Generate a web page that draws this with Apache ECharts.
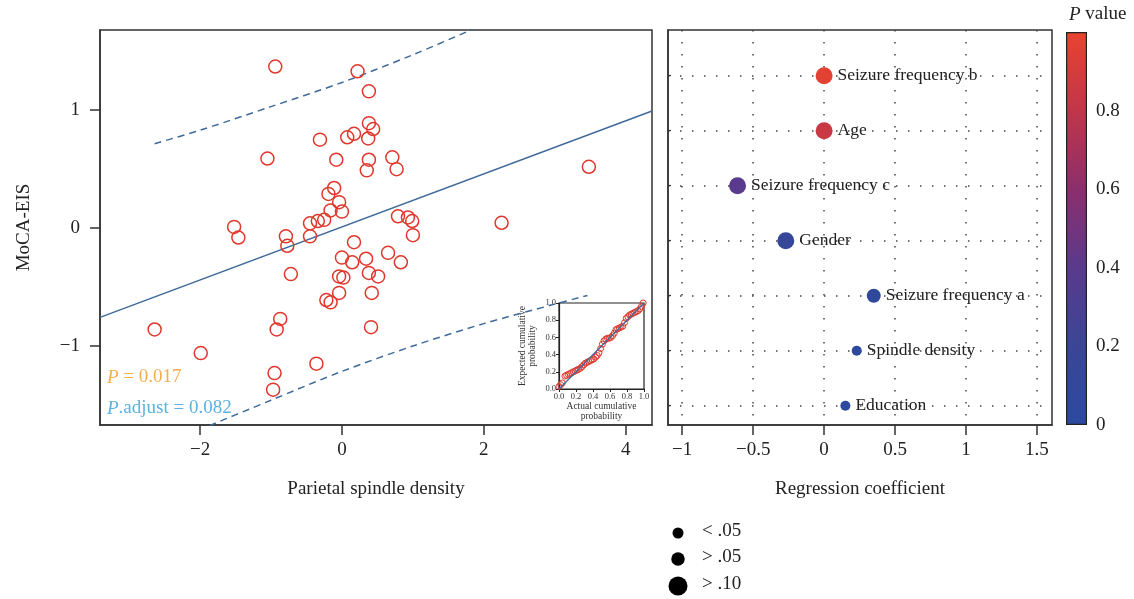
<!DOCTYPE html>
<html><head><meta charset="utf-8">
<script src="https://cdn.jsdelivr.net/npm/echarts@6/dist/echarts.min.js"></script>
<style>html,body{margin:0;padding:0;background:#fff}#c{width:1134px;height:599px}</style>
</head><body><div id="c"></div>
<script>
// ---- Left panel: scatter of parietal spindle density vs MoCA-EIS ----
const scatterX = [-0.94,0.22,0.38,0.38,0.44,0.37,0.17,0.075,-0.31,-1.05,-0.08,0.38,0.35,-0.11,-0.19,-0.04,0.00,-0.16,-0.25,-0.34,-0.45,-1.52,-1.46,-0.79,-0.77,-0.45,-0.72,0.17,0.00,0.145,0.34,0.65,-0.04,0.02,0.38,0.51,-0.04,0.42,-0.22,-0.16,-2.64,-0.87,-0.92,0.41,-1.99,-0.36,-0.95,-0.97,3.48,0.71,0.77,0.79,0.93,0.99,2.25,1.00,0.83];
const scatterY = [1.37,1.33,1.16,0.89,0.84,0.76,0.80,0.77,0.75,0.59,0.58,0.58,0.49,0.34,0.29,0.22,0.14,0.15,0.07,0.06,0.04,0.01,-0.08,-0.07,-0.15,-0.07,-0.39,-0.12,-0.25,-0.29,-0.26,-0.21,-0.41,-0.42,-0.38,-0.41,-0.55,-0.55,-0.61,-0.63,-0.86,-0.77,-0.86,-0.84,-1.06,-1.15,-1.23,-1.37,0.52,0.60,0.50,0.10,0.09,0.06,0.045,-0.06,-0.29];
const fitX = [-3.41, 4.37];
const fitY = [-0.757, 0.993];
const bandX = [-2.64, -2, -1, 0, 1, 2, 3, 3.46];
const bandUpper = [0.716, 0.83, 1.03, 1.235, 1.47, 1.73, 2.015, 2.149];
const bandLower = [-1.884, -1.71, -1.46, -1.215, -1.0, -0.81, -0.645, -0.571];
const leftXTicks = [-2, 0, 2, 4];
const leftYTicks = [-1, 0, 1];
const statP = '0.017';
const statPadj = '0.082';

// ---- Inset: P-P plot ----
const ppActual = [0.00,0.02,0.04,0.07,0.09,0.11,0.13,0.15,0.17,0.19,0.21,0.23,0.25,0.27,0.29,0.31,0.33,0.35,0.37,0.39,0.41,0.43,0.45,0.47,0.49,0.51,0.53,0.55,0.57,0.59,0.61,0.63,0.65,0.67,0.69,0.71,0.73,0.75,0.77,0.79,0.81,0.83,0.85,0.87,0.89,0.91,0.93,0.95,0.97,0.99];
const ppExpected = [0.03,0.05,0.07,0.15,0.16,0.17,0.18,0.19,0.20,0.21,0.22,0.23,0.24,0.26,0.28,0.30,0.31,0.32,0.33,0.34,0.35,0.37,0.39,0.42,0.47,0.52,0.56,0.58,0.59,0.59,0.60,0.62,0.65,0.69,0.70,0.71,0.72,0.73,0.77,0.82,0.84,0.86,0.87,0.88,0.89,0.90,0.91,0.93,0.96,1.00];
const ppRef = [0, 1];
const ppTicks = [0, 0.2, 0.4, 0.6, 0.8, 1.0];

// ---- Right panel: regression coefficients ----
const factors = ['Seizure frequency b','Age','Seizure frequency c','Gender','Seizure frequency a','Spindle density','Education'];
const factorPos = [7, 6, 5, 4, 3, 2, 1];
const coefs = [0.00, 0.00, -0.61, -0.27, 0.35, 0.23, 0.15];
const pValues = [0.97, 0.84, 0.40, 0.15, 0.07, 0.03, 0.02];
const rightXTicks = [-1, -0.5, 0, 0.5, 1, 1.5];
const cbTicks = [0, 0.2, 0.4, 0.6, 0.8];
const sizeLegend = ['< .05', '> .05', '> .10'];

const SERIF = '"Liberation Serif","DejaVu Serif",serif';
const AX = '#333';
const TXT = '#222';
const minus = v => String(v).replace('-', '\u2212');
const pColors = ['#2b4a9f','#3a4596','#5a3a8d','#8c2e6c','#c03649','#e9432f'];
function sizeFor(p){ return p < 0.05 ? 10 : (p < 0.10 ? 14 : 17); }
const legendSizes = [11, 13.5, 19];

const chart = echarts.init(document.getElementById('c'), null, {renderer:'canvas'});

const axisTxt = {fontFamily:SERIF, fontSize:19, color:TXT};
const dotted = {color:'#444', width:1.5, type:[1.5, 10.5]};

const graphics = [
  {type:'text', left:107, top:368, style:{text:'{i|P} = ' + statP, fontFamily:SERIF, fontSize:19, fill:'#f6ad4c',
     rich:{i:{fontStyle:'italic', fontFamily:SERIF, fontSize:19, fill:'#f6ad4c'}}}},
  {type:'text', left:107, top:399, style:{text:'{i|P}.adjust = ' + statPadj, fontFamily:SERIF, fontSize:19, fill:'#5bb2e2',
     rich:{i:{fontStyle:'italic', fontFamily:SERIF, fontSize:19, fill:'#5bb2e2'}}}},
  {type:'text', left:1069, top:5, style:{text:'{i|P} value', fontFamily:SERIF, fontSize:19, fill:TXT,
     rich:{i:{fontStyle:'italic', fontFamily:SERIF, fontSize:19, fill:TXT}}}}
];
const legendY = [533, 559, 586];
sizeLegend.forEach((t, i) => {
  graphics.push({type:'circle', shape:{cx:678, cy:legendY[i], r:legendSizes[i]/2}, style:{fill:'#000'}});
  graphics.push({type:'text', left:702, top:legendY[i]-11, style:{text:t, fontFamily:SERIF, fontSize:19, fill:TXT}});
});

const option = {
  animation:false,
  backgroundColor:'#fff',
  grid:[
    {left:100, top:30, width:552, height:395, show:true, borderColor:AX, borderWidth:1.5},
    {left:668, top:30, width:384, height:395, show:true, borderColor:AX, borderWidth:1.5},
    {left:1066, top:32, width:21, height:393},
    {left:559, top:303, width:85, height:86, show:true, borderColor:'#222', borderWidth:1.2, backgroundColor:'#fff'}
  ],
  xAxis:[
    {gridIndex:0, type:'value', min:-3.41, max:4.37, name:'Parietal spindle density', nameLocation:'middle', nameGap:55,
     nameTextStyle:axisTxt, axisLine:{onZero:false, lineStyle:{color:AX, width:1.5}},
     axisTick:{length:10, customValues:leftXTicks, lineStyle:{color:AX, width:1.5}},
     axisLabel:Object.assign({customValues:leftXTicks, formatter:minus, margin:16}, axisTxt), splitLine:{show:false}},
    {gridIndex:1, type:'value', min:-1.1, max:1.606, name:'Regression coefficient', nameLocation:'middle', nameGap:55,
     nameTextStyle:axisTxt, axisLine:{onZero:false, lineStyle:{color:AX, width:1.5}},
     axisTick:{length:10, customValues:rightXTicks, lineStyle:{color:AX, width:1.5}},
     axisLabel:Object.assign({customValues:rightXTicks, formatter:minus, margin:16}, axisTxt),
     splitLine:{show:true, lineStyle:dotted}},
    {gridIndex:2, type:'category', data:['P'], show:false, boundaryGap:true},
    {gridIndex:3, type:'value', min:0, max:1, interval:0.2, name:'Actual cumulative\nprobability', nameLocation:'middle', nameGap:13,
     nameTextStyle:{fontFamily:SERIF, fontSize:9.5, lineHeight:9.5, color:'#333'},
     axisLine:{onZero:false, lineStyle:{color:'#222', width:1.2}}, axisTick:{length:3, lineStyle:{color:'#222'}},
     axisLabel:{fontFamily:SERIF, fontSize:8.5, color:'#333', margin:3, formatter:v => v.toFixed(1)}, splitLine:{show:false}}
  ],
  yAxis:[
    {gridIndex:0, type:'value', min:-1.67, max:1.68, name:'MoCA-EIS', nameLocation:'middle', nameGap:66, nameTextStyle:axisTxt,
     axisLine:{onZero:false, lineStyle:{color:AX, width:1.5}},
     axisTick:{length:10, customValues:leftYTicks, lineStyle:{color:AX, width:1.5}},
     axisLabel:Object.assign({customValues:leftYTicks, formatter:minus, margin:20}, axisTxt), splitLine:{show:false}},
    {gridIndex:1, type:'value', min:0.65, max:7.83, axisLine:{onZero:false, lineStyle:{color:AX, width:1.5}},
     axisTick:{show:true, inside:true, length:3, customValues:factorPos, lineStyle:{color:AX, width:1.2}},
     axisLabel:{show:false, customValues:factorPos},
     splitLine:{show:true, lineStyle:dotted}},
    {gridIndex:2, type:'value', min:0, max:1, interval:0.2, position:'right', axisLine:{show:false},
     axisTick:{inside:true, length:4, lineStyle:{color:'#222', width:1.2}},
     axisLabel:{fontFamily:SERIF, fontSize:19, color:TXT, margin:9, showMaxLabel:false, formatter:v => (v === 0 ? '0' : v.toFixed(1))},
     splitLine:{show:false}},
    {gridIndex:2, type:'value', min:0, max:1, interval:0.2, position:'left', axisLine:{show:false},
     axisTick:{inside:true, length:4, lineStyle:{color:'#222', width:1.2}}, axisLabel:{show:false}, splitLine:{show:false}},
    {gridIndex:3, type:'value', min:0, max:1, interval:0.2, name:'Expected cumulative\nprobability', nameLocation:'middle', nameGap:22,
     nameTextStyle:{fontFamily:SERIF, fontSize:9.5, lineHeight:9.5, color:'#333'},
     axisLine:{onZero:false, lineStyle:{color:'#222', width:1.2}}, axisTick:{length:3, lineStyle:{color:'#222'}},
     axisLabel:{fontFamily:SERIF, fontSize:8.5, color:'#333', margin:3, formatter:v => v.toFixed(1)}, splitLine:{show:false}}
  ],
  visualMap:[{show:false, type:'continuous', seriesIndex:4, dimension:2, min:0, max:1, inRange:{color:pColors}}],
  series:[
    {type:'line', xAxisIndex:0, yAxisIndex:0, data:fitX.map((x,i)=>[x, fitY[i]]), symbol:'none', clip:true,
     lineStyle:{color:'#3e6a9b', width:1.5}, z:3},
    {type:'line', xAxisIndex:0, yAxisIndex:0, data:bandX.map((x,i)=>[x, bandUpper[i]]), symbol:'none', smooth:0.3, clip:true,
     lineStyle:{color:'#3e6a9b', width:1.5, type:[7,5]}, z:3},
    {type:'line', xAxisIndex:0, yAxisIndex:0, data:bandX.map((x,i)=>[x, bandLower[i]]), symbol:'none', smooth:0.3, clip:true,
     lineStyle:{color:'#3e6a9b', width:1.5, type:[7,5]}, z:3},
    {type:'scatter', xAxisIndex:0, yAxisIndex:0, data:scatterX.map((x,i)=>[x, scatterY[i]]), symbol:'circle', symbolSize:13,
     itemStyle:{color:'rgba(0,0,0,0)', borderColor:'#e0372c', borderWidth:1.5, opacity:1}, z:4},
    {type:'scatter', xAxisIndex:1, yAxisIndex:1,
     data:factors.map((f,i)=>[coefs[i], factorPos[i], pValues[i], f]),
     encode:{x:0, y:1}, symbolSize:v => sizeFor(v[2]), itemStyle:{opacity:1},
     label:{show:true, position:'right', distance:5, formatter:p => p.data[3], fontFamily:SERIF, fontSize:17.5, color:TXT, opacity:1}, z:5},
    {type:'bar', xAxisIndex:2, yAxisIndex:2, data:[1], barWidth:'100%',
     itemStyle:{borderColor:'#222', borderWidth:1.2,
       color:new echarts.graphic.LinearGradient(0,1,0,0, pColors.map((c,i)=>({offset:i/(pColors.length-1), color:c})))}},
    {type:'line', xAxisIndex:3, yAxisIndex:4, data:ppRef.map(v=>[v,v]), symbol:'none', lineStyle:{color:'#3e6a9b', width:1.3}, z:6},
    {type:'scatter', xAxisIndex:3, yAxisIndex:4, data:ppActual.map((x,i)=>[x, ppExpected[i]]), symbol:'circle', symbolSize:6,
     itemStyle:{color:'rgba(0,0,0,0)', borderColor:'#e0372c', borderWidth:1, opacity:1}, z:5}
  ],
  graphic:graphics
};
chart.setOption(option);
</script></body></html>
